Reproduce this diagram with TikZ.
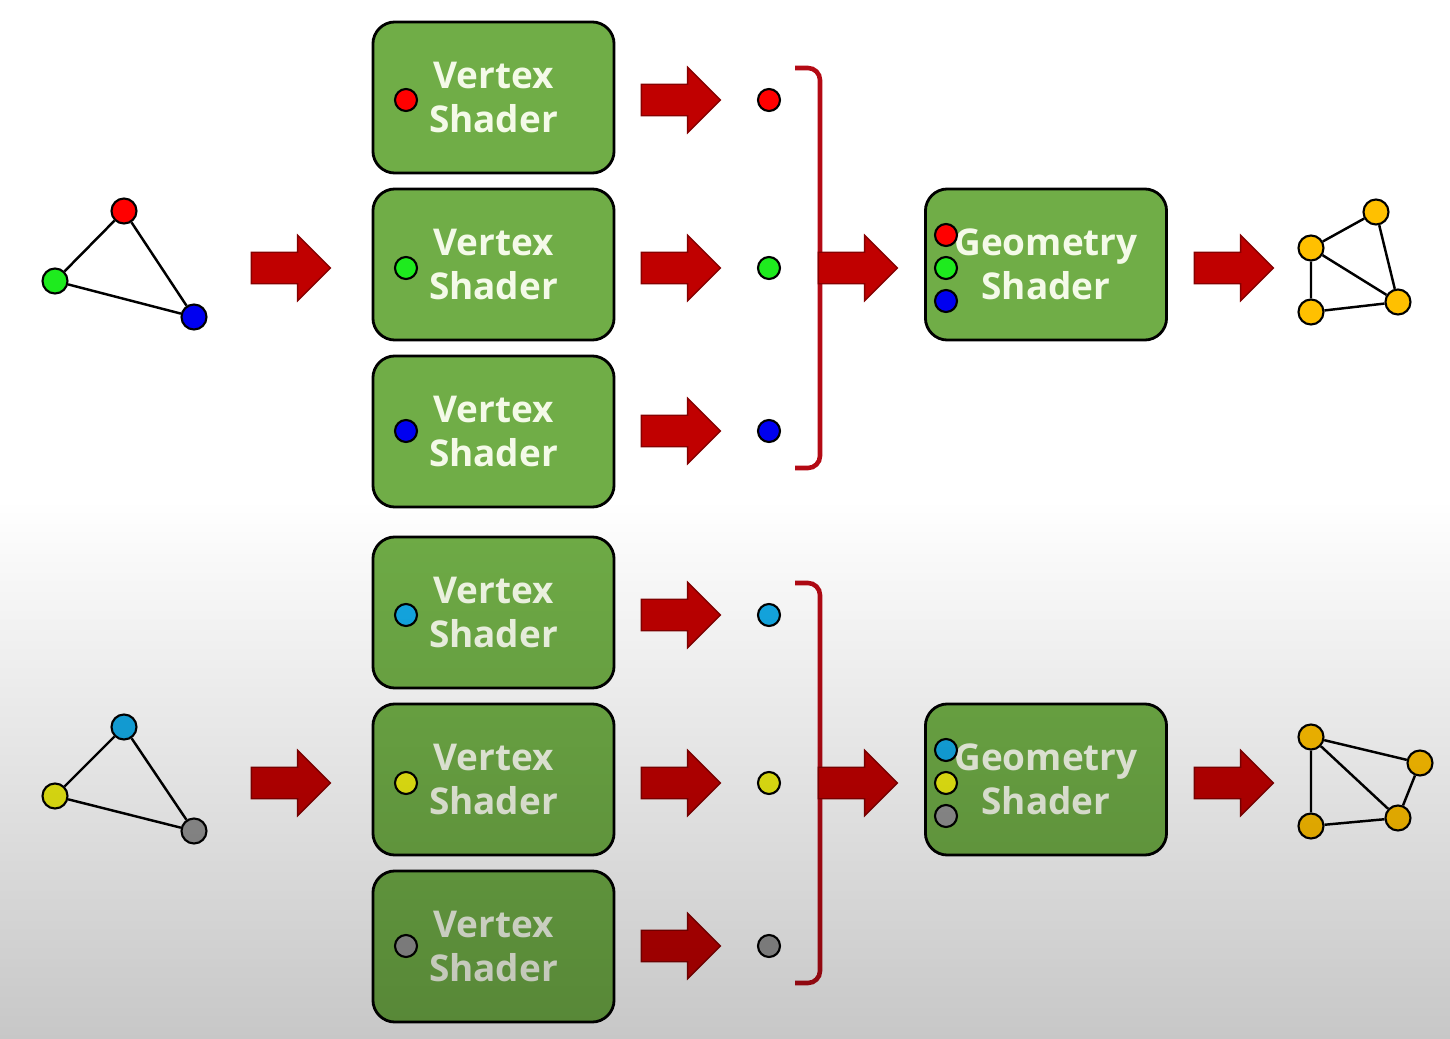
\documentclass[tikz,border=0pt]{standalone}
\usepackage{fontspec}
\setmainfont{Open Sans}
\usetikzlibrary{shapes.arrows,fadings}
\definecolor{shadergreen}{RGB}{112,173,71}
\definecolor{arrowred}{RGB}{192,0,0}
\definecolor{brackred}{RGB}{180,10,20}
\definecolor{textcream}{RGB}{244,250,232}
\definecolor{ptred}{RGB}{255,0,0}
\definecolor{ptgreen}{RGB}{30,235,30}
\definecolor{ptblue}{RGB}{0,0,240}
\definecolor{ptcyan}{RGB}{20,170,230}
\definecolor{ptyellow}{RGB}{240,240,20}
\definecolor{ptgray}{RGB}{150,150,150}
\definecolor{ptorange}{RGB}{255,192,0}
\tikzset{
  shaderbox/.style={draw=black, line width=0.8pt, fill=shadergreen,
    rounded corners=0.22cm, minimum width=2.41cm, minimum height=1.51cm,
    align=center, text=textcream, font=\bfseries\fontsize{10.5}{12.5}\selectfont},
  pt/.style={circle, draw=black, line width=0.6pt, inner sep=0pt, minimum size=0.22cm},
  bigpt/.style={pt, minimum size=0.25cm},
  bigarrow/.style={single arrow, draw=arrowred!70!black, fill=arrowred,
    inner xsep=0pt, inner ysep=0.15cm, minimum height=0.79cm,
    single arrow head extend=0.17cm},
  edge/.style={line width=0.7pt},
  bracket/.style={draw=brackred, line width=1.3pt, rounded corners=0.12cm}
}
\begin{document}
\begin{tikzpicture}[x=0.01cm,y=-0.01cm]
   \useasboundingbox[fill=white] (0,0) rectangle (1450,1039);

   % upper row
   \node[bigpt, fill=ptred] (ta) at (124,211) {};
   \node[bigpt, fill=ptgreen] (tb) at (55,281) {};
   \node[bigpt, fill=ptblue] (tc) at (194,317) {};
   \draw[edge] (ta) -- (tb) -- (tc) -- (ta);
   \node[bigarrow] (arin) at (283,268) {};

   \node[shaderbox] (vs1) at (493.5,97.5) {Vertex\\Shader};
   \node[shaderbox] (vs2) at (493.5,264.5) {Vertex\\Shader};
   \node[shaderbox] (vs3) at (493.5,431.5) {Vertex\\Shader};
   \node[pt, fill=ptred] (vsp1) at (406,100) {};
   \node[pt, fill=ptgreen] (vsp2) at (406,268) {};
   \node[pt, fill=ptblue] (vsp3) at (406,431) {};

   \node[bigarrow] (ar1) at (673,100) {};
   \node[bigarrow] (ar2) at (673,268) {};
   \node[bigarrow] (ar3) at (673,431) {};
   \node[pt, fill=ptred] (out1) at (769,100) {};
   \node[pt, fill=ptgreen] (out2) at (769,268) {};
   \node[pt, fill=ptblue] (out3) at (769,431) {};

   \draw[bracket] (795,68) -- (820,68) -- (820,468) -- (795,468);
   \node[bigarrow] (args) at (850,268) {};

   \node[shaderbox] (gs) at (1046,264.5) {Geometry\\Shader};
   \node[pt, fill=ptred] (gsp1) at (946,235) {};
   \node[pt, fill=ptgreen] (gsp2) at (946,268) {};
   \node[pt, fill=ptblue] (gsp3) at (946,301) {};
   \node[bigarrow] (arout) at (1226,268) {};

   \node[bigpt, fill=ptorange] (qa) at (1376,212) {};
   \node[bigpt, fill=ptorange] (qb) at (1311,248) {};
   \node[bigpt, fill=ptorange] (qc) at (1311,312) {};
   \node[bigpt, fill=ptorange] (qd) at (1398,302) {};
   \draw[edge] (qb) -- (qa) -- (qd) -- (qc) -- (qb) -- (qd);

   % lower row
   \node[bigpt, fill=ptcyan] (ua) at (124,727) {};
   \node[bigpt, fill=ptyellow] (ub) at (55,796) {};
   \node[bigpt, fill=ptgray] (uc) at (194,831) {};
   \draw[edge] (ua) -- (ub) -- (uc) -- (ua);
   \node[bigarrow] (brin) at (283,783) {};

   \node[shaderbox] (vs4) at (493.5,612.5) {Vertex\\Shader};
   \node[shaderbox] (vs5) at (493.5,779.5) {Vertex\\Shader};
   \node[shaderbox] (vs6) at (493.5,946.5) {Vertex\\Shader};
   \node[pt, fill=ptcyan] (vsp4) at (406,615) {};
   \node[pt, fill=ptyellow] (vsp5) at (406,783) {};
   \node[pt, fill=ptgray] (vsp6) at (406,946) {};

   \node[bigarrow] (ar4) at (673,615) {};
   \node[bigarrow] (ar5) at (673,783) {};
   \node[bigarrow] (ar6) at (673,946) {};
   \node[pt, fill=ptcyan] (out4) at (769,615) {};
   \node[pt, fill=ptyellow] (out5) at (769,783) {};
   \node[pt, fill=ptgray] (out6) at (769,946) {};

   \draw[bracket] (795,583) -- (820,583) -- (820,983) -- (795,983);
   \node[bigarrow] (brgs) at (850,783) {};

   \node[shaderbox] (gs2) at (1046,779.5) {Geometry\\Shader};
   \node[pt, fill=ptcyan] (gsp4) at (946,750) {};
   \node[pt, fill=ptyellow] (gsp5) at (946,783) {};
   \node[pt, fill=ptgray] (gsp6) at (946,816) {};
   \node[bigarrow] (brout) at (1226,783) {};

   \node[bigpt, fill=ptorange] (ra) at (1311,737) {};
   \node[bigpt, fill=ptorange] (rb) at (1420,763) {};
   \node[bigpt, fill=ptorange] (rc) at (1311,826) {};
   \node[bigpt, fill=ptorange] (rd) at (1398,818) {};
   \draw[edge] (ra) -- (rb) -- (rd) -- (rc) -- (ra) -- (rd);

   % grey shade over the lower half
   \fill[black, fill opacity=0.22, path fading=north] (0,500) rectangle (1450,1039);
\end{tikzpicture}
\end{document}
